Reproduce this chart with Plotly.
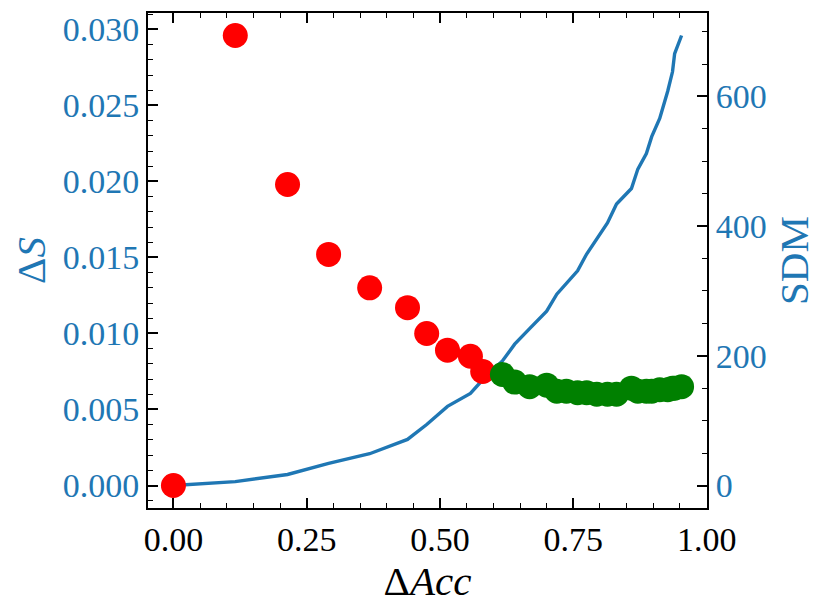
import plotly.graph_objects as go

# ── data ─────────────────────────────────────────────────────────────────────
delta_acc = [0.000, 0.116, 0.214, 0.291, 0.368, 0.439, 0.475, 0.514, 0.557, 0.580,
             0.617, 0.640, 0.668, 0.700, 0.719, 0.737, 0.758, 0.775, 0.794, 0.814,
             0.831, 0.859, 0.871, 0.887, 0.897, 0.912, 0.927, 0.936, 0.940, 0.953]
sdm = [0, 6, 17, 34, 49, 71, 94, 122, 142, 163,
       192, 218, 242, 269, 295, 311, 331, 357, 380, 405,
       434, 458, 488, 512, 538, 566, 608, 638, 666, 694]
delta_s = [0.0000, 0.0296, 0.0198, 0.0152, 0.0130, 0.0117, 0.0100, 0.0089, 0.0085, 0.0075,
           0.0073, 0.0068, 0.0065, 0.0066, 0.0062, 0.0062, 0.0061, 0.0061, 0.0060, 0.0060,
           0.0060, 0.0064, 0.0062, 0.0062, 0.0062, 0.0063, 0.0063, 0.0064, 0.0064, 0.0065]
n_red = 10   # first points are red, the rest green

x_ticks = [0.0, 0.25, 0.5, 0.75, 1.0]
x_ticktext = ["0.00", "0.25", "0.50", "0.75", "1.00"]
s_ticks = [0.0, 0.005, 0.010, 0.015, 0.020, 0.025, 0.030]
s_ticktext = ["0.000", "0.005", "0.010", "0.015", "0.020", "0.025", "0.030"]
sdm_ticks = [0, 200, 400, 600]

BLUE = "#1f77b4"
FONT = "Liberation Serif"

fig = go.Figure()

# SDM curve (primary y, drawn underneath)
fig.add_trace(go.Scatter(
    x=delta_acc, y=sdm, mode="lines",
    line=dict(color=BLUE, width=3.4),
    yaxis="y", showlegend=False,
))

# ΔS markers (overlay axis, drawn on top)
fig.add_trace(go.Scatter(
    x=delta_acc[:n_red], y=delta_s[:n_red], mode="markers",
    marker=dict(color="red", size=25, line=dict(width=0)),
    yaxis="y2", showlegend=False,
))
fig.add_trace(go.Scatter(
    x=delta_acc[n_red:], y=delta_s[n_red:], mode="markers",
    marker=dict(color="green", size=25, line=dict(width=0)),
    yaxis="y2", showlegend=False,
))

tick_common = dict(ticks="inside", ticklen=10, tickwidth=1.6, tickcolor="black",
                   showline=True, linecolor="black", linewidth=2,
                   showgrid=False, zeroline=False, automargin=False)

# the page body adds an 8px offset, so the figure is 8px smaller on each side
fig.update_layout(
    width=821, height=601,
    margin=dict(l=140, r=122, t=5, b=101),
    paper_bgcolor="white", plot_bgcolor="white",
    font=dict(family=FONT, size=34, color="black"),
    xaxis=dict(
        range=[-0.0477, 1.0007],
        tickvals=x_ticks, ticktext=x_ticktext,
        mirror="ticks",
        minor=dict(ticks="inside", ticklen=5, tickwidth=1.4, tickcolor="black", dtick=0.05),
        title=dict(text="Δ<i>Acc</i>", standoff=6),
        **tick_common,
    ),
    yaxis=dict(
        side="right",
        range=[-34.7, 728.7],
        tickvals=sdm_ticks,
        tickfont=dict(color=BLUE),
        minor=dict(ticks="inside", ticklen=5, tickwidth=1.4, tickcolor="black", dtick=50),
        title=dict(text="SDM", font=dict(color=BLUE), standoff=14),
        **tick_common,
    ),
    yaxis2=dict(
        overlaying="y", side="left",
        range=[-0.00148, 0.03108],
        tickvals=s_ticks, ticktext=s_ticktext,
        tickfont=dict(color=BLUE),
        minor=dict(ticks="inside", ticklen=5, tickwidth=1.4, tickcolor="black", dtick=0.001),
        title=dict(text="Δ<i>S</i>", font=dict(color=BLUE), standoff=14),
        **tick_common,
    ),
)

fig.write_html("out.html")
